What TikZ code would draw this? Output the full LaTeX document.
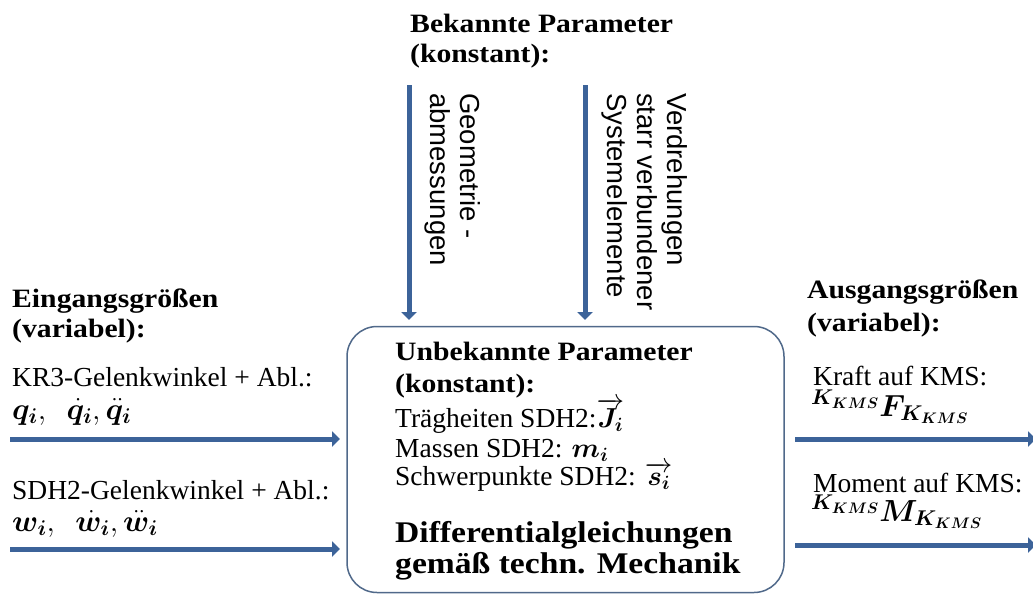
\documentclass[tikz,border=0pt]{standalone}
\usepackage{fix-cm}
\usepackage{fontspec}
\usepackage{amsmath,bm}
\setmainfont{Liberation Serif}[BoldFeatures={FakeStretch=1.12}]
\newfontfamily\sansf{Liberation Sans}
\usetikzlibrary{arrows.meta}
\definecolor{arrowblue}{HTML}{3C6399}
\definecolor{boxline}{HTML}{50698A}
\tikzset{
  flow/.style={draw=arrowblue, line width=5pt, -{Triangle[width=15pt,length=8pt]}},
  head/.style={anchor=base west, inner sep=0pt, font=\fontsize{26.5}{30}\selectfont\bfseries},
  body/.style={anchor=base west, inner sep=0pt, font=\fontsize{27.5}{30}\selectfont},
  formula/.style={anchor=base west, inner sep=0pt, font=\fontsize{30.5}{32}\selectfont},
  big/.style={anchor=base west, inner sep=0pt, font=\fontsize{30}{34}\selectfont\bfseries},
  vert/.style={anchor=base west, inner sep=0pt, rotate=-90, font=\sansf\fontsize{27.5}{30}\selectfont},
  panel/.style={draw=boxline, line width=1.5pt, rounded corners=30pt, inner sep=0pt}
}
\begin{document}
\begin{tikzpicture}[x=1pt,y=-1pt]
\useasboundingbox (0,0) rectangle (1033,597);

% central box
\node[panel, minimum width=437pt, minimum height=266pt] (box) at (565.5,459.5) {};

% top heading
\node[head] (topA) at (410,32) {Bekannte Parameter};
\node[head] (topB) at (410,62) {(konstant):};

% vertical arrows
\coordinate (vA) at (409,85);
\coordinate (vAend) at (409,320);
\coordinate (vB) at (585,85);
\coordinate (vBend) at (585,320);
\draw[flow] (vA) -- (vAend);
\draw[flow] (vB) -- (vBend);

\node[vert] (geoA) at (460,93) {Geometrie -};
\node[vert] (geoB) at (430,93) {abmessungen};
\node[vert] (verA) at (667,93) {Verdrehungen};
\node[vert] (verB) at (637,93) {starr verbundener};
\node[vert] (verC) at (607,93) {Systemelemente};

% left side
\node[head] (inH1) at (12,307) {Eingangsgrößen};
\node[head] (inH2) at (12,337) {(variabel):};
\node[body] (inA1) at (12,386) {KR3-Gelenkwinkel + Abl.:};
\node[formula] (inA2) at (12,419) {$\bm{q}_{\bm{i}},\ \ \dot{\bm{q}}_{\bm{i}},\ddot{\bm{q}}_{\bm{i}}$};
\node[body] (inB1) at (12,499) {SDH2-Gelenkwinkel + Abl.:};
\node[formula] (inB2) at (12,531) {$\bm{w}_{\bm{i}},\ \ \dot{\bm{w}}_{\bm{i}},\ddot{\bm{w}}_{\bm{i}}$};
\coordinate (inA) at (10,439);
\coordinate (inAend) at (340,439);
\coordinate (inB) at (10,549);
\coordinate (inBend) at (340,549);
\draw[flow] (inA) -- (inAend);
\draw[flow] (inB) -- (inBend);

% right side
\node[head] (outH1) at (807,298) {Ausgangsgrößen};
\node[head] (outH2) at (807,331) {(variabel):};
\node[body] (outA1) at (813,385) {Kraft auf KMS:};
\node[formula] (outA2) at (811,416) {${}^{\bm{K_{KMS}}}\bm{F}_{\bm{K_{KMS}}}$};
\node[body] (outB1) at (813,492) {Moment auf KMS:};
\node[formula] (outB2) at (811,521) {${}^{\bm{K_{KMS}}}\bm{M}_{\bm{K_{KMS}}}$};
\coordinate (outA) at (795,439);
\coordinate (outAend) at (1036,439);
\coordinate (outB) at (795,545);
\coordinate (outBend) at (1036,545);
\draw[flow] (outA) -- (outAend);
\draw[flow] (outB) -- (outBend);

% box contents
\node[head] (unA) at (395,360) {Unbekannte Parameter};
\node[head] (unB) at (395,392) {(konstant):};
\node[body] (unC) at (395,427) {Trägheiten SDH2:$\overrightarrow{\bm{J}_{\bm{i}}}$};
\node[body] (unD) at (395,457) {Massen SDH2: $\bm{m}_{\bm{i}}$};
\node[body] (unE) at (395,485) {Schwerpunkte SDH2: $\overrightarrow{\bm{s}_{\bm{i}}}$};
\node[big] (dgA) at (395,542) {Differentialgleichungen};
\node[big] (dgB) at (395,573) {gemäß techn. Mechanik};
\end{tikzpicture}
\end{document}
